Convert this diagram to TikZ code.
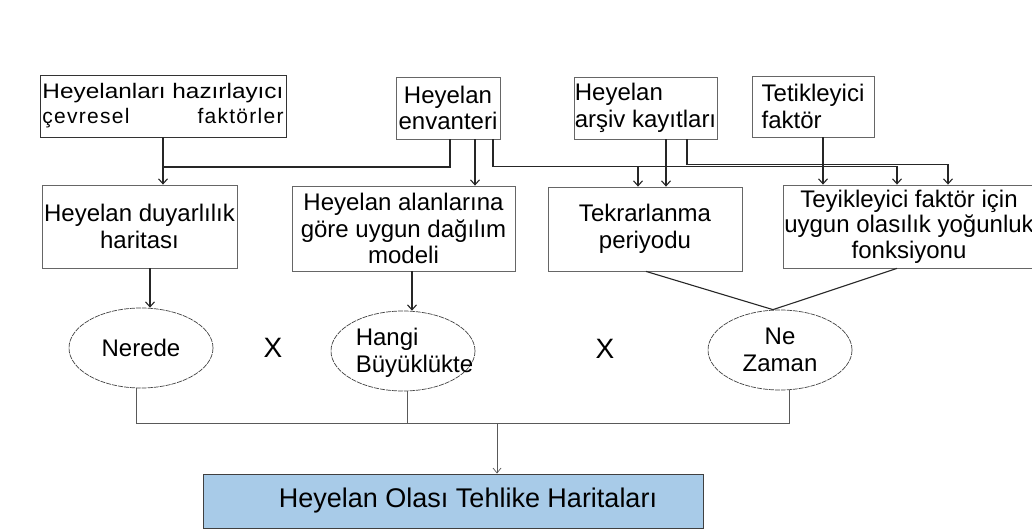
\documentclass[tikz,border=0pt]{standalone}
\usepackage{fontspec}
\setmainfont{Liberation Sans}
\usetikzlibrary{arrows.meta,shapes.geometric}
\definecolor{finblue}{RGB}{168,203,232}
\begin{document}
\begin{tikzpicture}[x=1pt,y=-1pt,
  box/.style={draw=black!60,line width=0.8pt,inner sep=0pt,align=center,font=\fontsize{24}{26.5}\selectfont},
  oval/.style={ellipse,draw=black!75,line width=0.7pt,dash pattern=on 5pt off 1pt,inner sep=0pt,minimum width=144pt,minimum height=80pt},
  ovaltext/.style={inner sep=0pt,align=center,font=\fontsize{24}{27}\selectfont},
  conn/.style={line width=1.1pt,black!85},
  arr/.style={conn,-{Straight Barb[length=5pt,width=9pt]}},
  thinl/.style={line width=0.7pt,black!65},
  thinarr/.style={thinl,-{Straight Barb[length=5pt,width=8pt]}},
  cross/.style={inner sep=0pt,font=\fontsize{28}{28}\selectfont}
]
\useasboundingbox (0,0) rectangle (1032,529);
\clip (0,0) rectangle (1032,529);

% top row
\node[box,minimum width=246pt,minimum height=62pt,align=left,draw=black!80,font=\fontsize{21}{25}\selectfont] (haz) at (163,106)
  {\resizebox{241pt}{\height}{Heyelanları hazırlayıcı}\\\makebox[241pt][s]{\addfontfeature{LetterSpace=6}çevresel faktörler}};
\node[box,minimum width=104pt,minimum height=62pt] (env) at (448,108) {Heyelan\\envanteri};
\node[box,minimum width=143pt,minimum height=62pt,align=left] (ars) at (645.5,108) {Heyelan\\arşiv kayıtları};
\node[box,minimum width=122pt,minimum height=61pt,align=left] (tet) at (813,106.5) {Tetikleyici\\faktör};

% second row
\node[box,minimum width=195pt,minimum height=83pt] (duy) at (139.5,226.5) {Heyelan duyarlılık\\haritası};
\node[box,minimum width=223pt,minimum height=85pt] (model) at (403.5,228.5) {Heyelan alanlarına\\göre uygun dağılım\\modeli};
\node[box,minimum width=194pt,minimum height=84pt] (tek) at (645,229) {Tekrarlanma\\periyodu};
\node[box,minimum width=252pt,minimum height=83pt,font=\fontsize{24}{25.5}\selectfont] (tey) at (909,226.5) {Teyikleyici faktör için\\uygun olasılık yoğunluk\\fonksiyonu};

% ellipses
\node[oval,ovaltext] (ner) at (141,348) {Nerede};
\node[oval] (hangi) at (403,351) {};
\node[ovaltext,align=left] (hangit) at (414.5,353) {Hangi\\Büyüklükte};
\node[oval,ovaltext] (nez) at (780,350) {Ne\\Zaman};
\node[cross] (x1) at (273,348) {X};
\node[cross] (x2) at (605,349) {X};

% final
\node[draw=black!75,line width=0.9pt,fill=finblue,minimum width=500pt,minimum height=54pt,inner sep=0pt,font=\fontsize{27}{29}\selectfont] (fin) at (453,501)
  {\hspace*{30pt}Heyelan Olası Tehlike Haritaları};

\coordinate (j1) at (163,167);
\coordinate (bus) at (497,423);

% top connectors
\draw[arr] (haz.south) -- (haz.south |- duy.north);
\draw[conn] ([xshift=2pt]env.south) |- (j1);
\draw[arr] ([xshift=27pt]env.south) -- ([xshift=27pt]env.south |- model.north);
\draw[arr] ([xshift=45pt]env.south) -- ++(0,27) -| ([xshift=-12pt]tey.north);
\draw[arr] ([xshift=45pt]env.south) -- ++(0,27) -| ([xshift=-7pt]tek.north);
\draw[arr] ([xshift=20.5pt]ars.south) -- ([xshift=20.5pt]ars.south |- tek.north);
\draw[arr] ([xshift=41.5pt]ars.south) -- ++(0,25) -| ([xshift=39pt]tey.north);
\draw[arr] ([xshift=10pt]tet.south) -- ([xshift=10pt]tet.south |- tey.north);

% to ellipses
\draw[arr] ([xshift=10.5pt]duy.south) -- ([xshift=10.5pt]duy.south |- ner.north);
\draw[arr] ([xshift=8.5pt]model.south) -- ([xshift=8.5pt]model.south |- hangi.north);
\draw[conn] ([xshift=1pt]tek.south) -- ([xshift=-7pt]nez.north);
\draw[conn] ([xshift=-12pt]tey.south) -- ([xshift=-7pt]nez.north);

% bottom
\draw[thinl] ([xshift=-5pt]ner.south) -- ++(0,35) -| ([xshift=9pt]nez.south);
\draw[thinl] ([xshift=4pt]hangi.south) -- ([xshift=4pt]hangi.south |- bus);
\draw[thinarr] (bus) -- (bus |- fin.north);
\end{tikzpicture}
\end{document}
